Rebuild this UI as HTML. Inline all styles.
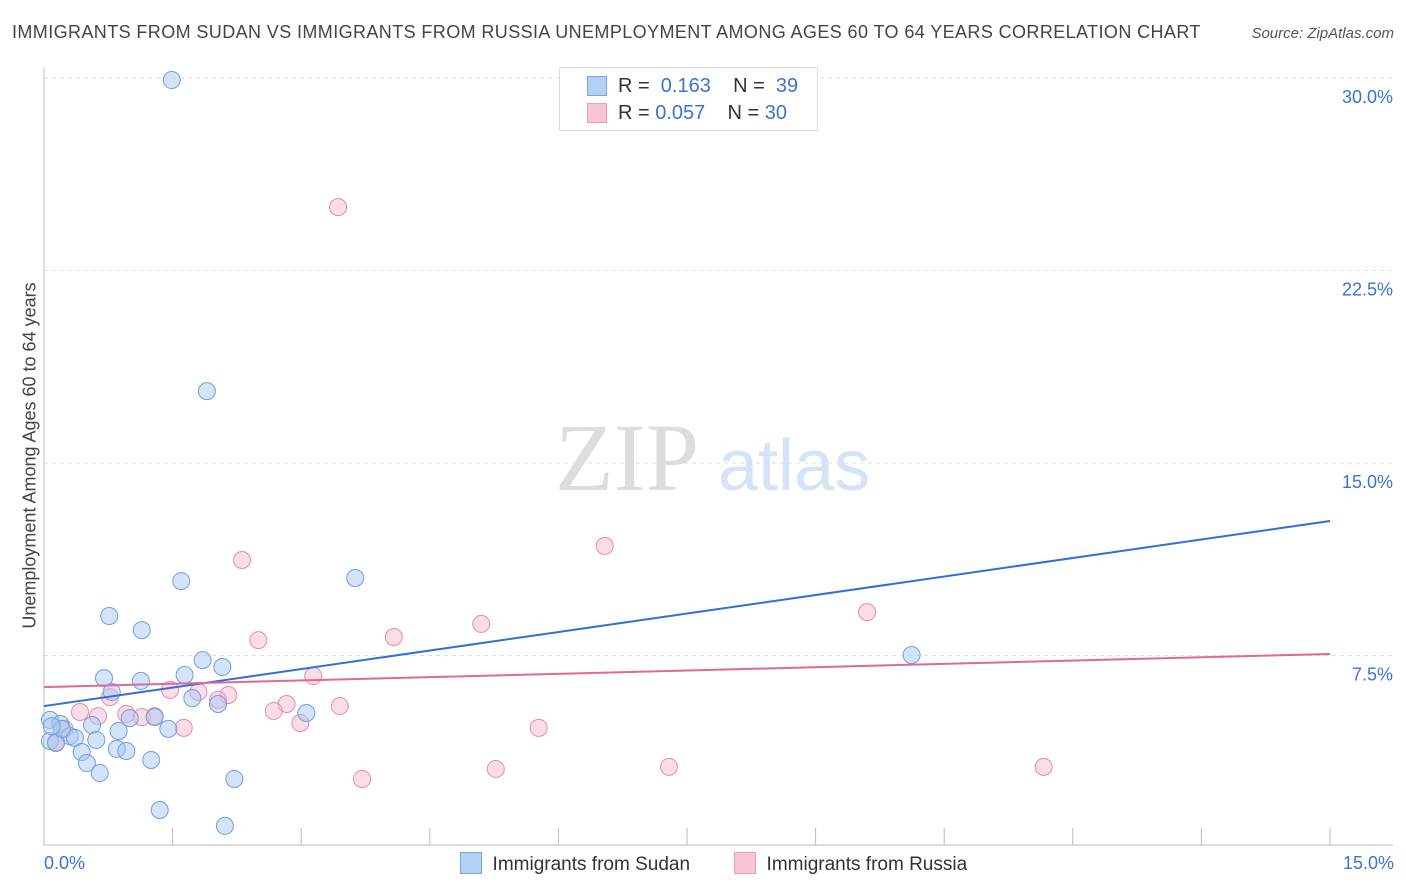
<!DOCTYPE html>
<html><head><meta charset="utf-8">
<style>
body{margin:0;background:#fff;font-family:"Liberation Sans",sans-serif;}
#wrap{position:relative;width:1406px;height:892px;overflow:hidden;}
.t{position:absolute;white-space:nowrap;}
</style></head>
<body>
<div id="wrap">
<div class="t" style="left:12px;top:22px;font-size:18px;color:#444;letter-spacing:0.4px;">IMMIGRANTS FROM SUDAN VS IMMIGRANTS FROM RUSSIA UNEMPLOYMENT AMONG AGES 60 TO 64 YEARS CORRELATION CHART</div>
<div class="t" style="right:12px;top:25px;font-size:15px;color:#555;font-style:italic;">Source: ZipAtlas.com</div>
<svg id="svg" width="1406" height="892" style="position:absolute;left:0;top:0"></svg>
</div>
<script>
const sudanX=[1.49,1.90,1.60,3.63,0.76,1.14,10.12,1.85,2.08,1.64,0.70,1.13,0.79,1.73,2.03,3.06,1.00,1.29,0.07,0.19,0.56,1.45,0.87,0.30,0.36,0.61,0.07,0.14,0.85,0.96,0.44,1.25,0.50,0.65,2.22,1.35,2.11,0.21,0.09];
const sudanY=[29.92,17.8,10.4,10.52,9.04,8.49,7.52,7.32,7.05,6.74,6.62,6.51,6.08,5.84,5.61,5.26,5.06,5.10,4.99,4.83,4.79,4.64,4.56,4.36,4.29,4.21,4.17,4.09,3.86,3.78,3.74,3.43,3.31,2.92,2.69,1.48,0.86,4.64,4.75];
const russiaX=[3.43,6.54,2.31,9.60,5.10,4.08,2.50,3.14,1.47,1.80,2.15,0.77,2.03,2.83,3.45,2.68,0.96,0.63,0.42,1.29,1.14,2.99,1.63,5.77,0.24,5.27,7.29,11.66,3.71,0.14];
const russiaY=[24.97,11.77,11.22,9.19,8.73,8.22,8.10,6.70,6.16,6.08,5.96,5.88,5.77,5.61,5.53,5.34,5.22,5.14,5.30,5.14,5.10,4.87,4.68,4.68,4.64,3.08,3.16,3.16,2.69,4.13];
const sudanTrend=[5.53,12.74];
const russiaTrend=[6.27,7.56];
const yTicks=[7.5,15,22.5,30];
const yTickLabels=["7.5%","15.0%","22.5%","30.0%"];

const X0=44,X1=1330,Y0=848;
const sx=v=>X0+(v/15)*(X1-X0);
const sy=v=>Y0-v*25.667;
const svg=document.getElementById('svg');
const NS='http://www.w3.org/2000/svg';
function mk(tag,attrs,parent){const e=document.createElementNS(NS,tag);for(const k in attrs)e.setAttribute(k,attrs[k]);(parent||svg).appendChild(e);return e;}

let wm=mk('text',{x:555,y:490,'font-size':96,'font-family':'Liberation Serif,serif',fill:'#ddd'});


wm.textContent='ZIP';
let wm2=mk('text',{x:718,y:490,'font-size':72,'font-family':'Liberation Sans,sans-serif',fill:'#d4e3f5'});


wm2.textContent='atlas';

yTicks.forEach((v,i)=>{
  const g=mk('line',{x1:X0,x2:1393,y1:sy(v),y2:sy(v),stroke:'#ddd','stroke-dasharray':'4,4'});
  
  
  const t=mk('text',{x:1393,y:sy(v)+25,'text-anchor':'end','font-size':18,fill:'#3b73d1'});
  
  
  t.textContent=yTickLabels[i];
});
let ax=mk('line',{x1:X0,x2:X0,y1:68,y2:845,stroke:'#bbb'});


let bx=mk('line',{x1:X0,x2:1393,y1:845,y2:845,stroke:'#bbb'});


for(let i=1;i<=10;i++){
  const tk=mk('line',{x1:sx(i*1.5),x2:sx(i*1.5),y1:828,y2:845,stroke:'#bbb'});
  
  
}
function series(xs,ys,fill,stroke,name){
  xs.forEach((x,i)=>{
    const c=mk('circle',{cx:sx(x),cy:sy(ys[i]),r:8.5,fill:fill,stroke:stroke,'stroke-width':1,'fill-opacity':0.5});
    
    
  });
}
series(russiaX,russiaY,'#f7bcd0','#e98aab','point-russia');
series(sudanX,sudanY,'#a9c8f2','#6f9fe0','point-sudan');
let l1=mk('line',{x1:sx(0),x2:sx(15),y1:sy(sudanTrend[0]),y2:sy(sudanTrend[1]),stroke:'#2f6fd6','stroke-width':2});


let l2=mk('line',{x1:sx(0),x2:sx(15),y1:sy(russiaTrend[0]),y2:sy(russiaTrend[1]),stroke:'#e4679a','stroke-width':2});


</script>
<div class="t" style="left:-145px;top:445px;width:350px;text-align:center;transform:rotate(-90deg);font-size:18px;color:#444;">Unemployment Among Ages 60 to 64 years</div>
<div class="t" style="left:44px;top:853px;font-size:18px;color:#3b73d1;">0.0%</div>
<div class="t" style="right:12px;top:853px;font-size:18px;color:#3b73d1;">15.0%</div>
<div style="position:absolute;left:559px;top:67px;width:257px;height:62px;border:1px solid #ddd;background:#fff;font-size:20px;color:#333;">
 <div style="position:absolute;left:27px;top:8px;width:18px;height:18px;background:#b5d0f5;border:1px solid #7aa6e6;"></div>
 <div class="t" style="left:58px;top:7px;">R = <span style="color:#3b73d1">&nbsp;0.163</span>&nbsp;&nbsp;&nbsp;&nbsp;N = <span style="color:#3b73d1">&nbsp;39</span></div>
 <div style="position:absolute;left:27px;top:35px;width:18px;height:18px;background:#f9c4d6;border:1px solid #ec9bb8;"></div>
 <div class="t" style="left:58px;top:34px;">R = <span style="color:#3b73d1">0.057</span>&nbsp;&nbsp;&nbsp;&nbsp;N = <span style="color:#3b73d1">30</span></div>
</div>
<div style="position:absolute;left:460px;top:852px;font-size:19px;color:#333;">
 <span style="display:inline-block;width:20px;height:20px;background:#b5d0f5;border:1px solid #7aa6e6;vertical-align:-4px;"></span>&nbsp; Immigrants from Sudan</div>
<div style="position:absolute;left:734px;top:852px;font-size:19px;color:#333;">
 <span style="display:inline-block;width:20px;height:20px;background:#f9c4d6;border:1px solid #ec9bb8;vertical-align:-4px;"></span>&nbsp; Immigrants from Russia</div>
</body></html>
